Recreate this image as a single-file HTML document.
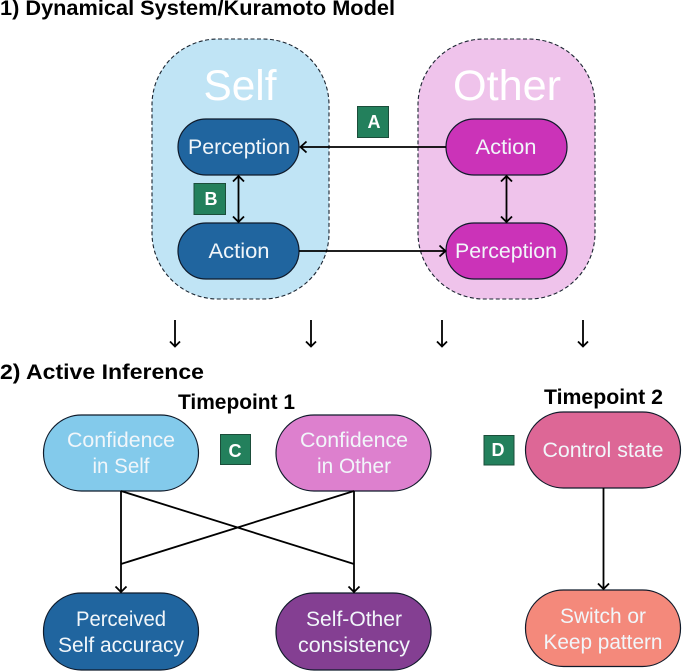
<!DOCTYPE html>
<html><head><meta charset="utf-8"><style>
html,body{margin:0;padding:0;background:#fff}
svg{display:block}
text{font-family:"Liberation Sans",sans-serif}
.n{fill:#f1f6fa;font-size:21px;text-anchor:middle}
.h{fill:#000;font-weight:bold;font-size:21px}
.l{fill:#fff;font-weight:bold;font-size:18px;text-anchor:middle}
.w{fill:#fff;font-size:43px;text-anchor:middle}
.a{stroke:#000;stroke-width:1.8;fill:none}
.o{stroke:#0f1a2a;stroke-width:1.2}
</style></head><body>
<svg width="682" height="671" viewBox="0 0 682 671" xmlns="http://www.w3.org/2000/svg">
<rect width="682" height="671" fill="#fff"/>
<text class="h" x="0" y="15" textLength="395" lengthAdjust="spacingAndGlyphs">1) Dynamical System/Kuramoto Model</text>
<rect x="152" y="39" width="177" height="260" rx="66" fill="#c0e4f5" stroke="#1a2430" stroke-width="1.1" stroke-dasharray="4 2.5"/>
<rect x="418" y="39" width="177" height="260" rx="66" fill="#efc3eb" stroke="#1a2430" stroke-width="1.1" stroke-dasharray="4 2.5"/>
<text class="w" x="240" y="100" textLength="73" lengthAdjust="spacingAndGlyphs">Self</text>
<text class="w" x="507" y="100" textLength="108" lengthAdjust="spacingAndGlyphs">Other</text>
<rect class="o" x="178" y="119" width="121" height="56" rx="28" fill="#20659f"/>
<rect class="o" x="178" y="223" width="121" height="56" rx="28" fill="#20659f"/>
<rect class="o" x="446" y="119" width="121" height="56" rx="28" fill="#cb33b8"/>
<rect class="o" x="446" y="223" width="121" height="56" rx="28" fill="#cb33b8"/>
<text class="n" x="239" y="154" textLength="102" lengthAdjust="spacingAndGlyphs">Perception</text>
<text class="n" x="239" y="258" textLength="61" lengthAdjust="spacingAndGlyphs">Action</text>
<text class="n" x="506" y="154" textLength="61" lengthAdjust="spacingAndGlyphs">Action</text>
<text class="n" x="506" y="258" textLength="102" lengthAdjust="spacingAndGlyphs">Perception</text>
<path class="a" d="M446 147H301M306.500 141.500L300.500 147L306.500 152.500"/>
<path class="a" d="M299 251H445M439.500 245.500L445.500 251L439.500 256.500"/>
<path class="a" d="M238.500 176V222M233 181.500L238.500 176L244 181.500M233 216.500L238.500 222L244 216.500"/>
<path class="a" d="M506.500 176V222M501 181.500L506.500 176L512 181.500M501 216.500L506.500 222L512 216.500"/>
<rect x="357.500" y="106.500" width="31" height="31" fill="#23805c" stroke="#1b4d3a"/>
<rect x="194" y="183.500" width="31.500" height="31" fill="#23805c" stroke="#1b4d3a"/>
<rect x="220.500" y="434.500" width="30" height="30" fill="#23805c" stroke="#1b4d3a"/>
<rect x="484" y="435.500" width="30" height="29.500" fill="#23805c" stroke="#1b4d3a"/>
<text class="l" x="374" y="128">A</text>
<text class="l" x="211" y="205">B</text>
<text class="l" x="235" y="457">C</text>
<text class="l" x="498" y="456">D</text>
<path class="a" d="M175 320V346.500M170 341.500L175 346.500L180 341.500"/>
<path class="a" d="M311 320V346.500M306 341.500L311 346.500L316 341.500"/>
<path class="a" d="M442 320V346.500M437 341.500L442 346.500L447 341.500"/>
<path class="a" d="M583 320V346.500M578 341.500L583 346.500L588 341.500"/>
<text class="h" x="0" y="379" textLength="204" lengthAdjust="spacingAndGlyphs">2) Active Inference</text>
<text class="h" x="178" y="409" textLength="117" lengthAdjust="spacingAndGlyphs">Timepoint 1</text>
<text class="h" x="544" y="404" textLength="119" lengthAdjust="spacingAndGlyphs">Timepoint 2</text>
<rect class="o" x="43.500" y="415" width="155" height="76" rx="38" fill="#83caeb"/>
<rect class="o" x="276" y="415" width="155" height="76" rx="38" fill="#dd80ce"/>
<rect class="o" x="43.500" y="593" width="155" height="77" rx="38" fill="#20659f"/>
<rect class="o" x="276" y="593" width="155" height="77" rx="38" fill="#843f92"/>
<rect class="o" x="525.500" y="412" width="155" height="76" rx="38" fill="#dd6796"/>
<rect class="o" x="525.500" y="590" width="155" height="76.500" rx="38" fill="#f4897b"/>
<path class="a" d="M121 491V592M115.500 586.500L121 592L126.500 586.500"/>
<path class="a" d="M354 491V592M348.500 586.500L354 592L359.500 586.500"/>
<path class="a" d="M121 491L354 564"/>
<path class="a" d="M354 491L121 564"/>
<path class="a" d="M603.500 488V589M598 583.500L603.500 589L609 583.500"/>
<text class="n" x="121" y="447" textLength="108" lengthAdjust="spacingAndGlyphs">Confidence</text>
<text class="n" x="121" y="473" textLength="57" lengthAdjust="spacingAndGlyphs">in Self</text>
<text class="n" x="354" y="447" textLength="108" lengthAdjust="spacingAndGlyphs">Confidence</text>
<text class="n" x="354" y="473" textLength="74" lengthAdjust="spacingAndGlyphs">in Other</text>
<text class="n" x="121" y="626" textLength="90" lengthAdjust="spacingAndGlyphs">Perceived</text>
<text class="n" x="121" y="652" textLength="126" lengthAdjust="spacingAndGlyphs">Self accuracy</text>
<text class="n" x="354" y="626" textLength="96" lengthAdjust="spacingAndGlyphs">Self-Other</text>
<text class="n" x="354" y="652" textLength="112" lengthAdjust="spacingAndGlyphs">consistency</text>
<text class="n" x="603" y="457" textLength="121" lengthAdjust="spacingAndGlyphs">Control state</text>
<text class="n" x="603" y="623" textLength="86" lengthAdjust="spacingAndGlyphs">Switch or</text>
<text class="n" x="603" y="649" textLength="119" lengthAdjust="spacingAndGlyphs">Keep pattern</text>
</svg>
</body></html>
